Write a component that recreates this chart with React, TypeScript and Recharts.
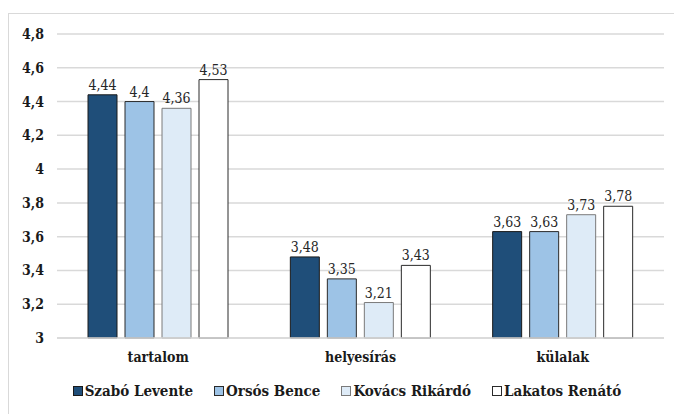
import { BarChart, Bar, XAxis, YAxis, CartesianGrid, Legend, LabelList } from "recharts";

const categories = ["tartalom", "helyesírás", "külalak"];
const szabo = [4.44, 3.48, 3.63];
const orsos = [4.4, 3.35, 3.63];
const kovacs = [4.36, 3.21, 3.73];
const lakatos = [4.53, 3.43, 3.78];
const yTicks = [3, 3.2, 3.4, 3.6, 3.8, 4, 4.2, 4.4, 4.6, 4.8];

const series = [
  { key: "szabo", name: "Szabó Levente", color: "#1f4e79", stroke: "#1a1a1a" },
  { key: "orsos", name: "Orsós Bence", color: "#9dc3e6", stroke: "#2a2a2a" },
  { key: "kovacs", name: "Kovács Rikárdó", color: "#deebf7", stroke: "#7a7a7a" },
  { key: "lakatos", name: "Lakatos Renátó", color: "#ffffff", stroke: "#2a2a2a" },
];

const data = categories.map((name, i) => ({
  name,
  szabo: szabo[i],
  orsos: orsos[i],
  kovacs: kovacs[i],
  lakatos: lakatos[i],
}));

const FONT = "'DejaVu Serif Condensed', 'DejaVu Serif', serif";
const comma = (v: number) => String(v).replace(".", ",");
const tickStyle = { fill: "#1a1a1a", fontSize: 14, fontWeight: "bold", fontFamily: FONT, fontStretch: "condensed" };

function LegendContent() {
  return (
    <div style={{ display: "flex", justifyContent: "center", gap: 21, fontFamily: FONT, fontStretch: "condensed", fontWeight: "bold", fontSize: 15, color: "#1a1a1a", paddingLeft: 30 }}>
      {series.map((s) => (
        <span key={s.key} style={{ display: "flex", alignItems: "center" }}>
          <span style={{ display: "inline-block", width: 8, height: 8, background: s.color, border: `1px solid ${s.stroke}`, marginRight: 2 }} />
          {s.name}
        </span>
      ))}
    </div>
  );
}

export default function App() {
  return (
    <div style={{ position: "absolute", left: 0, top: 0, width: 674, height: 414, background: "#fff", overflow: "hidden", fontFamily: FONT }}>
      <div style={{ position: "absolute", left: 8, top: 13, width: 680, height: 420, border: "1.5px solid #d9d9d9", boxSizing: "border-box" }} />
      <BarChart
        width={674}
        height={414}
        data={data}
        margin={{ top: 34, right: 10, left: 0, bottom: 28 }}
        barSize={29}
        barGap={8}
        style={{ fontFamily: FONT }}
      >
        <CartesianGrid vertical={false} stroke="#d9d9d9" strokeWidth={1.5} />
        <XAxis
          dataKey="name"
          axisLine={{ stroke: "#d9d9d9", strokeWidth: 1.5 }}
          tickLine={false}
          tickSize={0}
          tickMargin={14}
          tick={tickStyle}
        />
        <YAxis
          domain={[3, 4.8]}
          ticks={yTicks}
          width={57}
          axisLine={false}
          tickLine={false}
          tickSize={0}
          tickMargin={13}
          tickFormatter={comma}
          tick={tickStyle}
        />
        <Legend verticalAlign="bottom" wrapperStyle={{ bottom: 14 }} content={<LegendContent />} />
        {series.map((s) => (
          <Bar key={s.key} dataKey={s.key} name={s.name} fill={s.color} stroke={s.stroke} strokeWidth={1} isAnimationActive={false}>
            <LabelList
              dataKey={s.key}
              position="top"
              offset={5}
              formatter={(v: any) => comma(v)}
              style={{ fill: "#262626", fontSize: 14, fontFamily: FONT, fontStretch: "condensed" }}
            />
          </Bar>
        ))}
      </BarChart>
    </div>
  );
}
